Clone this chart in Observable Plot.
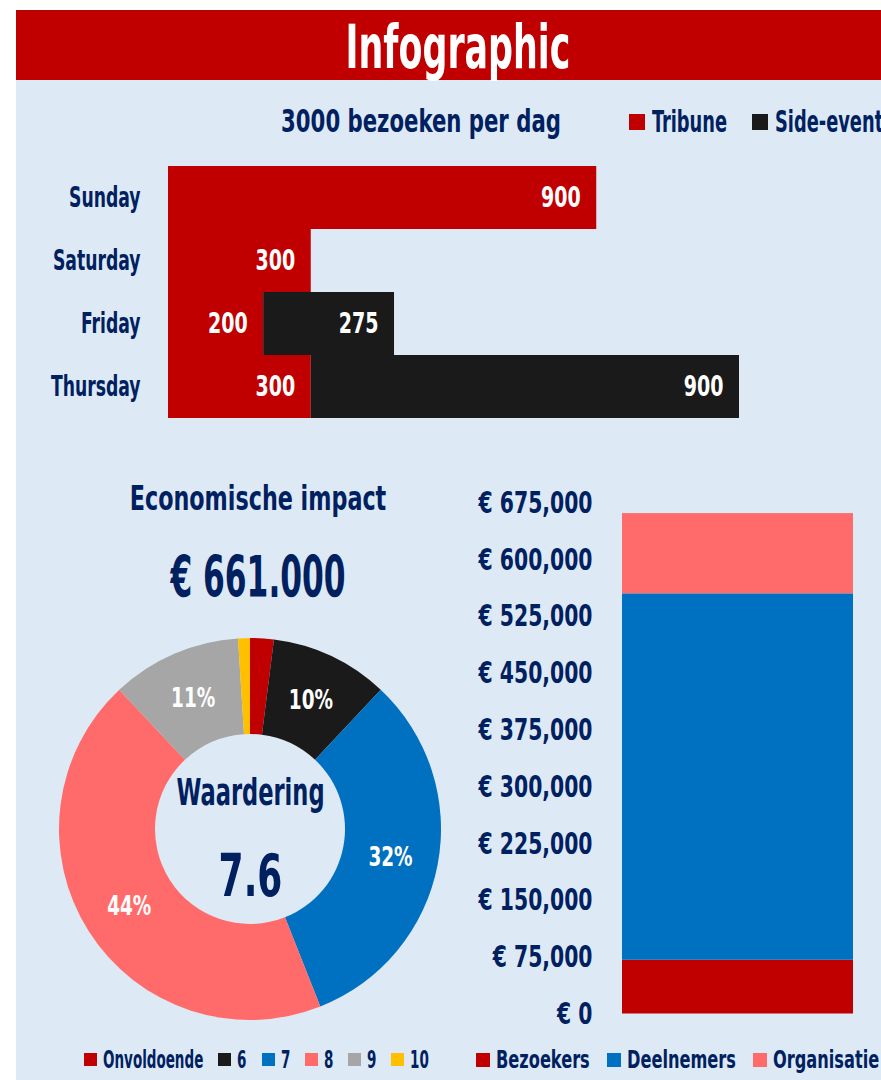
<!DOCTYPE html>
<html>
<head>
<meta charset="utf-8">
<script src="https://cdn.jsdelivr.net/npm/d3@7"></script>
<script src="https://cdn.jsdelivr.net/npm/@observablehq/plot@0.6"></script>
<style>
html, body { margin: 0; padding: 0; background: #fff; }
body { width: 881px; height: 1080px; position: relative; overflow: hidden;
  font-family: "DejaVu Sans Condensed", "DejaVu Sans", sans-serif;
  font-weight: bold; color: #002060; }
#panel { position: absolute; left: 16px; top: 10px; width: 865px; height: 1070px; background: #DDEAF6; overflow: hidden; }
#banner { position: absolute; left: 16px; top: 10px; width: 865px; height: 70px; background: #C00000; }
.abs { position: absolute; white-space: nowrap; }
.center { transform: translateX(-50%); }
.sq { display: inline-block; transform-origin: center center; }
.legend { position: absolute; display: flex; align-items: center; white-space: nowrap; }
.legend .item { display: flex; align-items: center; }
.legend .sw { display: inline-block; flex: none; }
.legend .lab { display: inline-block; transform-origin: left center; }
.chart { position: absolute; }
</style>
</head>
<body>
<div id="panel"></div>
<div id="banner"></div>
<div class="abs center" style="left:458px; top:16px; font-size:61px; line-height:61px; color:#fff;"><span class="sq" style="transform:scaleX(0.635)">Infographic</span></div>
<div class="abs center" style="left:421px; top:105px; font-size:32px; line-height:32px;"><span class="sq" id="barTitle" style="transform:scaleX(0.737)"></span></div>
<div class="legend" id="barLegend" style="left:629px; top:107px; font-size:30px; line-height:30px;"></div>
<div class="chart" id="bars" style="left:16px; top:150px;"></div>
<div class="abs center" style="left:258px; top:482px; font-size:33px; line-height:33px;"><span class="sq" id="impactTitle" style="transform:scaleX(0.75)"></span></div>
<div class="abs center" style="left:258px; top:549px; font-size:57px; line-height:57px;"><span class="sq" id="impactTotal" style="transform:scaleX(0.61)"></span></div>
<div class="chart" id="donut" style="left:50px; top:629px;"></div>
<div class="chart" id="stack" style="left:460px; top:480px;"></div>
<div class="legend" id="donutLegend" style="left:84px; top:1047px; font-size:25px; line-height:25px;"></div>
<div class="legend" id="stackLegend" style="left:476px; top:1047px; font-size:25px; line-height:25px;"></div>
<script>
const FONT = '"DejaVu Sans Condensed", "DejaVu Sans", sans-serif';
const NAVY = "#002060";

// ---- Visits per day ----
const days = ["Thursday", "Friday", "Saturday", "Sunday"];
const tribune = [300, 200, 300, 900];
const sideEvent = [900, 275, 0, 0];
const visitTypes = ["Tribune", "Side-event"];
const visitColors = ["#C00000", "#1A1A1A"];
const visitsTitle = "3000 bezoeken per dag";

// ---- Rating donut ----
const ratings = ["Onvoldoende", "6", "7", "8", "9", "10"];
const ratingShares = [2, 10, 32, 44, 11, 1];
const ratingColors = ["#C00000", "#1A1A1A", "#0070C0", "#FF6B6B", "#A6A6A6", "#FFC000"];
const ratingLabel = "Waardering";
const ratingAverage = "7.6";

// ---- Economic impact ----
const impactTitle = "Economische impact";
const impactParts = ["Bezoekers", "Deelnemers", "Organisatie"];
const impactValues = [71000, 484000, 106000];
const impactColors = ["#C00000", "#0070C0", "#FF6B6B"];
const impactTicks = [0, 75000, 150000, 225000, 300000, 375000, 450000, 525000, 600000, 675000];
const impactTotalText = "€ 661.000";

document.getElementById("barTitle").textContent = visitsTitle;
document.getElementById("impactTitle").textContent = impactTitle;
document.getElementById("impactTotal").textContent = impactTotalText;

// horizontally condensed legend (narrow display face look)
function legend(el, names, colors, sw, gapSw, gapItem, squeeze) {
  const root = document.getElementById(el);
  names.forEach((n, i) => {
    const it = document.createElement("div");
    it.className = "item";
    it.style.marginRight = gapItem + "px";
    const s = document.createElement("span");
    s.className = "sw";
    s.style.width = sw + "px"; s.style.height = sw + "px";
    s.style.background = colors[i];
    s.style.marginRight = gapSw + "px";
    const t = document.createElement("span");
    t.className = "lab";
    t.textContent = n;
    it.appendChild(s); it.appendChild(t);
    root.appendChild(it);
    const w = t.offsetWidth;
    t.style.transform = `scaleX(${squeeze})`;
    t.style.marginRight = (-(1 - squeeze) * w) + "px";
  });
}
legend("barLegend", visitTypes, visitColors, 16, 7, 25, 0.66);
legend("donutLegend", ratings, ratingColors, 13, 6, 15, 0.6);
legend("stackLegend", impactParts, impactColors, 14, 6, 17, 0.72);

// condense SVG texts around their anchor
function condense(svg, factor) {
  const ns = "http://www.w3.org/2000/svg";
  svg.querySelectorAll("text").forEach(t => {
    const s = factor(t);
    const anchor = getComputedStyle(t).textAnchor;
    const g = document.createElementNS(ns, "g");
    if (t.hasAttribute("transform")) {
      g.setAttribute("transform", t.getAttribute("transform"));
      t.removeAttribute("transform");
    }
    t.parentNode.insertBefore(g, t);
    g.appendChild(t);
    t.style.transformBox = "fill-box";
    t.style.transformOrigin = anchor === "end" ? "right center" : anchor === "middle" ? "center center" : "left center";
    t.style.transform = `scaleX(${s})`;
  });
}

const baseStyle = {background: "transparent", fontFamily: FONT, fontWeight: "bold", color: NAVY, overflow: "visible"};

// Bar chart
const visits = days.flatMap((d, i) => [
  {day: d, type: visitTypes[0], value: tribune[i]},
  {day: d, type: visitTypes[1], value: sideEvent[i]}
]);
const barPlot = Plot.plot({
  width: 865, height: 280,
  marginLeft: 152, marginRight: 142, marginTop: 14, marginBottom: 11,
  x: {domain: [0, 1200], axis: null},
  y: {domain: [...days].reverse(), padding: 0, tickSize: 0, tickPadding: 28, label: null},
  color: {domain: visitTypes, range: visitColors},
  style: {...baseStyle, fontSize: "29px"},
  marks: [
    Plot.barX(visits, {x: "value", y: "day", fill: "type"}),
    Plot.text(visits.filter(d => d.value > 0), Plot.stackX2({
      x: "value", y: "day", z: "type", text: d => String(d.value),
      textAnchor: "end", dx: -16, fill: "white", fontSize: 29
    }))
  ]
});
document.getElementById("bars").appendChild(barPlot);
condense(barPlot, t => /^\d+$/.test(t.textContent) ? 0.73 : 0.66);

// Donut chart
const ratingData = ratings.map((r, i) => ({rating: r, share: ratingShares[i]}));
function donutMark(index, scales, values, dims) {
  const color = scales.color || Plot.scale({color: {domain: ratings, range: ratingColors}}).apply;
  const cx = dims.width / 2, cy = dims.height / 2;
  const arcs = d3.pie().sort(null).value(d => d.share)(ratingData);
  const arc = d3.arc().innerRadius(95).outerRadius(191);
  const g = d3.create("svg:g").attr("transform", `translate(${cx},${cy})`);
  g.selectAll("path").data(arcs).join("path")
    .attr("d", arc).attr("fill", d => color(d.data.rating));
  g.selectAll("text").data(arcs.filter(d => d.data.share >= 5)).join("text")
    .attr("transform", d => `translate(${arc.centroid(d)})`)
    .attr("text-anchor", "middle").attr("dy", "0.36em")
    .attr("fill", "white").attr("font-size", 27)
    .text(d => d.data.share + "%");
  return g.node();
}
const donutPlot = Plot.plot({
  width: 400, height: 400, margin: 0,
  color: {domain: ratings, range: ratingColors},
  style: {...baseStyle, fontSize: "27px"},
  marks: [
    donutMark,
    Plot.text([ratingLabel], {frameAnchor: "middle", text: d => d, lineAnchor: "bottom", dy: -25, fontSize: 38, fill: NAVY}),
    Plot.text([ratingAverage], {frameAnchor: "middle", text: d => d, lineAnchor: "bottom", dy: 66, fontSize: 58, fill: NAVY})
  ]
});
document.getElementById("donut").appendChild(donutPlot);
condense(donutPlot, t => t.textContent.endsWith("%") ? 0.76 : t.textContent === ratingLabel ? 0.66 : 0.69);

// Stacked impact bar
const impact = impactParts.map((p, i) => ({group: "impact", part: p, value: impactValues[i]}));
const euro = d3.format(",");
const stackPlot = Plot.plot({
  width: 421, height: 560,
  marginLeft: 162, marginRight: 28, marginTop: 22.5, marginBottom: 26.5,
  x: {axis: null, padding: 0},
  y: {domain: [0, 675000], ticks: impactTicks, tickFormat: d => "€ " + euro(d), tickSize: 0, tickPadding: 30, label: null},
  color: {domain: impactParts, range: impactColors},
  style: {...baseStyle, fontSize: "31px"},
  marks: [
    Plot.barY(impact, {x: "group", y: "value", fill: "part"})
  ]
});
document.getElementById("stack").appendChild(stackPlot);
condense(stackPlot, () => 0.73);
</script>
</body>
</html>
